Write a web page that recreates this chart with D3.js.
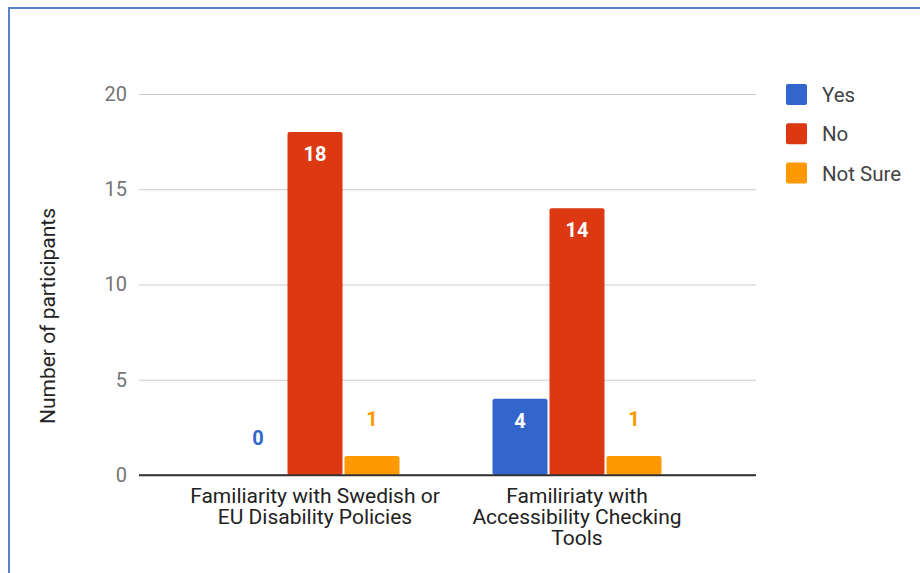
<!DOCTYPE html>
<html>
<head>
<meta charset="utf-8">
<script src="https://cdnjs.cloudflare.com/ajax/libs/d3/7.8.5/d3.min.js"></script>
<style>
  html, body { margin: 0; padding: 0; background: #fff; }
  svg { display: block; font-family: Roboto, "Noto Sans", sans-serif; }
</style>
</head>
<body>
<div id="chart"></div>
<script>
// chart data
var categories = [
    ["Familiarity with Swedish or", "EU Disability Policies"],
    ["Familiriaty with", "Accessibility Checking", "Tools"]
];
var series = ["Yes", "No", "Not Sure"];
var colors = ["#3366cc", "#dc3912", "#ff9900"];
var yesValues = [0, 4];
var noValues = [18, 14];
var notSureValues = [1, 1];
var yTicks = [0, 5, 10, 15, 20];

var width = 920, height = 573;

var svg = d3.select("#chart")
  .append("svg")
    .attr("width", width)
    .attr("height", height);

// frame around the picture
svg.append("path")
    .attr("d", "M9,580 L9,8 L930,8")
    .attr("fill", "none")
    .attr("stroke", "#5a7fcf")
    .attr("stroke-width", 2);

var plotLeft = 139, plotRight = 756, plotTop = 94, plotBottom = 475;

var y = d3.scaleLinear()
    .domain([0, 20])
    .range([plotBottom, plotTop]);

// groups sit inside the plot with Google-chart style padding
var x0 = d3.scaleBand()
    .domain(d3.range(categories.length))
    .range([184, 708])
    .padding(0);

var x1 = d3.scaleBand()
    .domain(series)
    .range([-84.5, 84.5])
    .paddingInner(2 / 57)
    .paddingOuter(0);

var color = d3.scaleOrdinal().domain(series).range(colors);

// gridlines + tick labels
var yAxis = svg.append("g")
    .attr("transform", "translate(" + plotLeft + ",0)")
    .call(d3.axisLeft(y).tickValues(yTicks).tickSize(-(plotRight - plotLeft)).tickPadding(12));
yAxis.select(".domain").remove();
yAxis.selectAll(".tick line")
    .attr("stroke", function(d) { return d === 0 ? "#333" : "#cccccc"; })
    .attr("stroke-width", function(d) { return d === 0 ? 1.5 : 1.2; });
yAxis.selectAll(".tick text")
    .attr("fill", "#757575")
    .attr("font-size", "20px")
    .attr("font-family", "Roboto, sans-serif");

var data = [];
categories.forEach(function(c, i) {
    data.push({ cat: i, series: "Yes", value: yesValues[i] });
    data.push({ cat: i, series: "No", value: noValues[i] });
    data.push({ cat: i, series: "Not Sure", value: notSureValues[i] });
});

var bars = svg.append("g");

bars.selectAll("rect")
  .data(data.filter(function(d) { return d.value > 0; }))
  .enter()
  .append("rect")
    .attr("x", function(d) { return x0(d.cat) + x0.bandwidth() / 2 + x1(d.series); })
    .attr("y", function(d) { return y(d.value); })
    .attr("width", x1.bandwidth())
    .attr("height", function(d) { return y(0) - y(d.value); })
    .attr("rx", 2)
    .attr("fill", function(d) { return color(d.series); });

// redraw baseline over bars
svg.append("line")
    .attr("x1", plotLeft).attr("x2", plotRight)
    .attr("y1", y(0)).attr("y2", y(0))
    .attr("stroke", "#333").attr("stroke-width", 1.5);

// value labels: inside bar if tall enough, otherwise above in series colour
bars.selectAll("text")
  .data(data)
  .enter()
  .append("text")
    .attr("x", function(d) { return x0(d.cat) + x0.bandwidth() / 2 + x1(d.series) + x1.bandwidth() / 2; })
    .attr("y", function(d) {
        var h = y(0) - y(d.value);
        return h > 40 ? y(d.value) + 29 : y(d.value) - 30;
    })
    .attr("text-anchor", "middle")
    .attr("font-size", "20px")
    .attr("font-weight", "bold")
    .attr("fill", function(d) {
        var h = y(0) - y(d.value);
        return h > 40 ? "#fff" : color(d.series);
    })
    .text(function(d) { return d.value; });

// category labels
var catLabels = svg.append("g");
categories.forEach(function(lines, i) {
    var t = catLabels.append("text")
        .attr("text-anchor", "middle")
        .attr("font-size", "21px")
        .attr("fill", "#222");
    lines.forEach(function(line, j) {
        t.append("tspan")
            .attr("x", x0(i) + x0.bandwidth() / 2)
            .attr("y", 503 + j * 21)
            .text(line);
    });
});

// axis title
svg.append("text")
    .attr("transform", "translate(55,316) rotate(-90)")
    .attr("text-anchor", "middle")
    .attr("font-size", "21px")
    .attr("fill", "#222")
    .text("Number of participants");

// legend
var legend = svg.selectAll(".legend")
    .data(series)
    .enter()
    .append("g")
    .attr("class", "legend")
    .attr("transform", function(d, i) { return "translate(786," + (84 + i * 39.3) + ")"; });

legend.append("rect")
    .attr("width", 21)
    .attr("height", 21)
    .attr("rx", 2)
    .attr("fill", function(d) { return color(d); });

legend.append("text")
    .attr("x", 36)
    .attr("y", 18)
    .attr("font-size", "20.5px")
    .attr("fill", "#444")
    .text(function(d) { return d; });
</script>
</body>
</html>
